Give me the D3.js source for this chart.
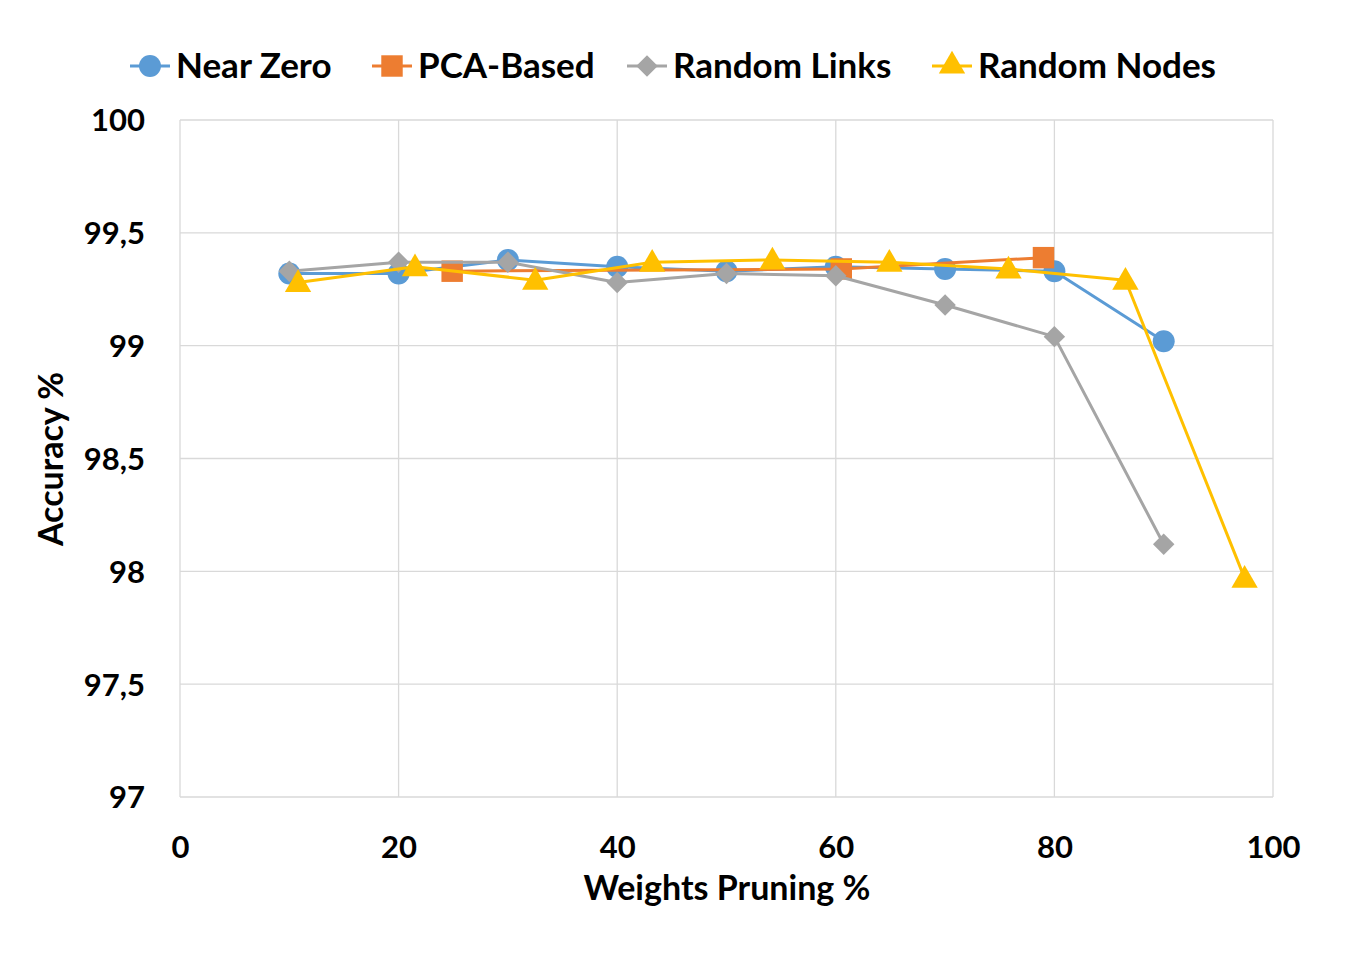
<!DOCTYPE html>
<html>
<head>
<meta charset="utf-8">
<style>
body { margin: 0; background: #fff; }
svg { font-family: Lato, "Open Sans", sans-serif; font-weight: bold; }
.grid line { stroke: #d9d9d9; stroke-width: 1.3; }
.tick text { font-size: 31px; fill: #000; }
</style>
</head>
<body>
<svg id="svg"></svg>
<script src="https://cdnjs.cloudflare.com/ajax/libs/d3/7.8.5/d3.min.js"></script>
<script>
// data
var nearZeroX = [10, 20, 30, 40, 50, 60, 70, 80, 90]
var nearZeroY = [99.32, 99.32, 99.38, 99.35, 99.33, 99.35, 99.34, 99.33, 99.02]
var pcaX = [24.9, 60.5, 79.0]
var pcaY = [99.33, 99.34, 99.39]
var linksX = [10, 20, 30, 40, 50, 60, 70, 80, 90]
var linksY = [99.33, 99.37, 99.37, 99.28, 99.32, 99.31, 99.18, 99.04, 98.12]
var nodesX = [10.8, 21.5, 32.5, 43.2, 54.2, 64.9, 75.8, 86.5, 97.4]
var nodesY = [99.28, 99.35, 99.29, 99.37, 99.38, 99.37, 99.34, 99.29, 97.97]
var xTicks = [0, 20, 40, 60, 80, 100]
var yTicks = [97, 97.5, 98, 98.5, 99, 99.5, 100]

var series = [
  {name: 'Near Zero', xs: nearZeroX, ys: nearZeroY, color: '#5B9BD5', shape: d3.symbolCircle, size: 380, rot: 0},
  {name: 'PCA-Based', xs: pcaX, ys: pcaY, color: '#ED7D31', shape: d3.symbolSquare, size: 460, rot: 0},
  {name: 'Random Links', xs: linksX, ys: linksY, color: '#A5A5A5', shape: d3.symbolSquare, size: 230, rot: 45},
  {name: 'Random Nodes', xs: nodesX, ys: nodesY, color: '#FFC000', shape: d3.symbolTriangle, size: 300, rot: 0}
]

var W = 1352, H = 957
var margin = {top: 120, right: 79, bottom: 160, left: 180}
var width = W - margin.left - margin.right,
    height = H - margin.top - margin.bottom

var svg = d3.select('#svg').attr('width', W).attr('height', H)

var xScale = d3.scaleLinear().domain([0, 100]).range([margin.left, margin.left + width])
var yScale = d3.scaleLinear().domain([97, 100]).range([margin.top + height, margin.top])

// gridlines
var grid = svg.append('g').attr('class', 'grid')
grid.selectAll('.hg').data(yTicks).enter().append('line')
    .attr('x1', xScale(0)).attr('x2', xScale(100))
    .attr('y1', d => yScale(d)).attr('y2', d => yScale(d))
grid.selectAll('.vg').data(xTicks).enter().append('line')
    .attr('y1', yScale(97)).attr('y2', yScale(100))
    .attr('x1', d => xScale(d)).attr('x2', d => xScale(d))

// axes (labels only)
var xAxis = d3.axisBottom(xScale).tickValues(xTicks).tickSize(0).tickPadding(50)
var yAxis = d3.axisLeft(yScale).tickValues(yTicks).tickSize(0).tickPadding(35)
    .tickFormat(d => String(d).replace('.', ','))

svg.append('g').attr('transform', 'translate(0,' + (margin.top + height) + ')')
    .call(xAxis).call(g => g.select('.domain').remove())
svg.append('g').attr('transform', 'translate(' + margin.left + ',0)')
    .call(yAxis).call(g => g.select('.domain').remove())
svg.selectAll('.tick text').attr('font-family', 'Lato, sans-serif').attr('font-weight', 'bold').attr('dy', '0.35em')

// lines + markers
var line = d3.line().x(d => xScale(d[0])).y(d => yScale(d[1]))
series.forEach(function(s) {
  var pts = s.xs.map((x, i) => [x, s.ys[i]])
  svg.append('path').datum(pts).attr('d', line)
     .attr('fill', 'none').attr('stroke', s.color).attr('stroke-width', 3)
     .attr('stroke-linejoin', 'round')
  svg.selectAll(null).data(pts).enter().append('path')
     .attr('d', d3.symbol().type(s.shape).size(s.size))
     .attr('transform', d => 'translate(' + xScale(d[0]) + ',' + (yScale(d[1]) + (s.shape === d3.symbolTriangle ? 2 : 0)) + ') rotate(' + s.rot + ')')
     .attr('fill', s.color)
})

// axis titles
svg.append('text').attr('x', 727).attr('y', 900).attr('text-anchor', 'middle')
   .attr('font-size', 34).text('Weights Pruning %')
svg.append('text').attr('transform', 'translate(63,459) rotate(-90)').attr('text-anchor', 'middle')
   .attr('font-size', 34).text('Accuracy %')

// legend
var legendX = [130, 372, 627, 932]
var leg = svg.selectAll('.leg').data(series).enter().append('g')
   .attr('transform', (d, i) => 'translate(' + legendX[i] + ',66)')
leg.append('line').attr('x1', 0).attr('x2', 40).attr('stroke', d => d.color).attr('stroke-width', 3)
leg.append('path').attr('d', d => d3.symbol().type(d.shape).size(d.size)())
   .attr('transform', d => 'translate(20,0) rotate(' + d.rot + ')').attr('fill', d => d.color)
leg.append('text').attr('x', 46).attr('dy', '0.35em').attr('font-size', 35).text(d => d.name)
</script>
</body>
</html>
